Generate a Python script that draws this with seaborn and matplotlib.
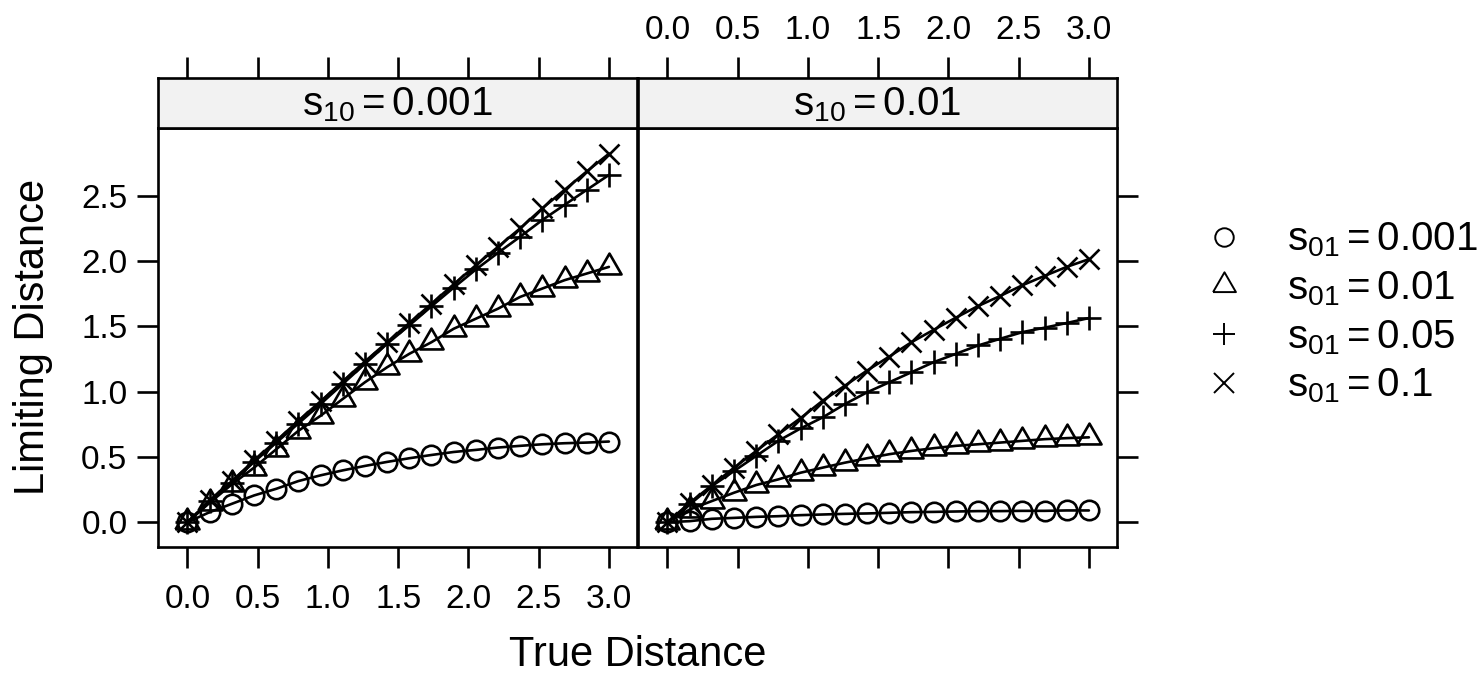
import numpy as np
import pandas as pd
import matplotlib
matplotlib.use('Agg')
import matplotlib.pyplot as plt
import seaborn as sns
from matplotlib.lines import Line2D

# Data

true_dist = [0.0, 0.158, 0.316, 0.474, 0.632, 0.789, 0.947, 1.105, 1.263, 1.421,
             1.579, 1.737, 1.895, 2.053, 2.211, 2.368, 2.526, 2.684, 2.842, 3.0]

s10_levels = ['0.001', '0.01']
s01_levels = ['0.001', '0.01', '0.05', '0.1']

# panel s10 = 0.001
p1_s01_0001 = [0.0, 0.077, 0.141, 0.205, 0.256, 0.315, 0.359, 0.397, 0.431, 0.462,
               0.490, 0.515, 0.538, 0.554, 0.572, 0.585, 0.597, 0.605, 0.610, 0.618]
p1_s01_001 = [0.0, 0.149, 0.290, 0.418, 0.559, 0.700, 0.815, 0.944, 1.072, 1.187,
              1.290, 1.379, 1.482, 1.559, 1.636, 1.726, 1.790, 1.854, 1.905, 1.956]
p1_s01_005 = [0.0, 0.162, 0.303, 0.462, 0.610, 0.756, 0.905, 1.059, 1.213, 1.367,
              1.508, 1.654, 1.797, 1.936, 2.064, 2.187, 2.315, 2.431, 2.546, 2.660]
p1_s01_01 = [0.0, 0.167, 0.315, 0.474, 0.623, 0.777, 0.926, 1.079, 1.231, 1.379,
             1.526, 1.674, 1.823, 1.969, 2.110, 2.251, 2.405, 2.546, 2.687, 2.823]

# panel s10 = 0.01
p2_s01_0001 = [0.0, 0.008, 0.026, 0.033, 0.041, 0.046, 0.054, 0.059, 0.064, 0.067,
               0.072, 0.077, 0.079, 0.082, 0.085, 0.085, 0.087, 0.087, 0.090, 0.090]
p2_s01_001 = [0.0, 0.097, 0.162, 0.226, 0.285, 0.328, 0.379, 0.418, 0.456, 0.490,
              0.521, 0.546, 0.567, 0.585, 0.597, 0.610, 0.623, 0.636, 0.644, 0.650]
p2_s01_005 = [0.0, 0.136, 0.277, 0.392, 0.508, 0.623, 0.718, 0.803, 0.905, 0.995,
              1.072, 1.149, 1.226, 1.290, 1.354, 1.405, 1.456, 1.490, 1.526, 1.564]
p2_s01_01 = [0.0, 0.149, 0.282, 0.418, 0.546, 0.674, 0.797, 0.931, 1.046, 1.162,
             1.269, 1.379, 1.474, 1.567, 1.656, 1.733, 1.815, 1.887, 1.956, 2.015]

x_ticks = [0.0, 0.5, 1.0, 1.5, 2.0, 2.5, 3.0]
x_tick_labels = ['0.0', '0.5', '1.0', '1.5', '2.0', '2.5', '3.0']
y_ticks = [0.0, 0.5, 1.0, 1.5, 2.0, 2.5]
y_tick_labels = ['0.0', '0.5', '1.0', '1.5', '2.0', '2.5']

panels = {
    '0.001': [p1_s01_0001, p1_s01_001, p1_s01_005, p1_s01_01],
    '0.01': [p2_s01_0001, p2_s01_001, p2_s01_005, p2_s01_01],
}

rows = []
for s10 in s10_levels:
    for s01, vals in zip(s01_levels, panels[s10]):
        for x, y in zip(true_dist, vals):
            rows.append({'s10': s10, 's01': s01, 'true': x, 'limit': y})
df = pd.DataFrame(rows)

# Style

sns.set_style('white')
plt.rcParams['font.family'] = ['Liberation Sans', 'DejaVu Sans']
plt.rcParams['mathtext.fontset'] = 'custom'
plt.rcParams['mathtext.rm'] = 'Liberation Sans'
plt.rcParams['mathtext.it'] = 'Liberation Sans:italic'
plt.rcParams['text.color'] = 'black'
plt.rcParams['axes.labelcolor'] = 'black'
plt.rcParams['xtick.color'] = 'black'
plt.rcParams['ytick.color'] = 'black'

TRI = [(-0.866, -0.5), (0.866, -0.5), (0.0, 1.0), (-0.866, -0.5)]
MARKERS = {'0.001': 'o', '0.01': TRI, '0.05': '+', '0.1': 'x'}
SIZES = {'0.001': 14, '0.01': 20, '0.05': 17, '0.1': 15}

LW = 1.9
TICK_LEN = 15
TICK_FS = 24
LABEL_FS = 30
STRIP_FS = 29

fig = plt.figure(figsize=(14.79, 6.75), dpi=100)

W, H = 1479, 675
panel_left = [158, 638]
panel_w = 479
panel_top, panel_bottom = 128, 547
strip_top = 78

XLIM = (-0.21, 3.2)
YLIM = (-0.19, 3.02)

for i, s10 in enumerate(s10_levels):
    ax = fig.add_axes([panel_left[i] / W, 1 - panel_bottom / H,
                       panel_w / W, (panel_bottom - panel_top) / H])
    strip = fig.add_axes([panel_left[i] / W, 1 - panel_top / H,
                          panel_w / W, (panel_top - strip_top) / H])

    for s01 in s01_levels:
        sub = df[(df['s10'] == s10) & (df['s01'] == s01)]
        sns.lineplot(data=sub, x='true', y='limit', ax=ax, color='black',
                     lw=LW, marker=MARKERS[s01], markersize=SIZES[s01],
                     mfc='none', mec='black', mew=LW, errorbar=None,
                     estimator=None, sort=False, legend=False)

    ax.set_xlim(XLIM)
    ax.set_ylim(YLIM)
    ax.set_xticks(x_ticks)
    ax.set_yticks(y_ticks)
    ax.set_xticklabels(x_tick_labels)
    ax.set_yticklabels(y_tick_labels)
    ax.set_xlabel('')
    ax.set_ylabel('')
    for sp in ax.spines.values():
        sp.set_visible(True)
        sp.set_linewidth(LW)
        sp.set_color('black')

    ax.tick_params(axis='both', direction='out', length=TICK_LEN, width=LW,
                   color='black', labelsize=TICK_FS, top=False)
    ax.tick_params(axis='x', pad=12)
    ax.tick_params(axis='y', pad=7)
    if i == 0:
        ax.tick_params(axis='y', left=True, labelleft=True, right=False, labelright=False)
        ax.tick_params(axis='x', bottom=True, labelbottom=True)
    else:
        ax.tick_params(axis='y', left=False, labelleft=False, right=True, labelright=False)
        ax.tick_params(axis='x', bottom=True, labelbottom=False)

    # strip
    strip.set_facecolor('#f2f2f2')
    strip.set_xlim(XLIM)
    strip.set_ylim(0, 1)
    strip.set_yticks([])
    strip.set_xticks(x_ticks)
    strip.set_xticklabels(x_tick_labels)
    for sp in strip.spines.values():
        sp.set_visible(True)
        sp.set_linewidth(LW)
        sp.set_color('black')
    strip.tick_params(axis='x', direction='out', length=TICK_LEN, width=LW,
                      color='black', labelsize=TICK_FS, pad=8,
                      bottom=False, labelbottom=False, top=True, labeltop=(i == 1))
    strip.text(0.5, 0.47, r'$\mathregular{s_{10} = ' + s10 + '}$',
               transform=strip.transAxes, ha='center', va='center',
               fontsize=STRIP_FS)

fig.text(638 / W, 1 - 655 / H, 'True Distance', ha='center', va='center',
         fontsize=LABEL_FS)
fig.text(33 / W, 1 - 337 / H, 'Limiting Distance', ha='center', va='center',
         rotation=90, fontsize=LABEL_FS)

handles = [Line2D([], [], linestyle='none', color='black', marker=MARKERS[s],
                  markersize=SIZES[s] * 0.95, mfc='none', mec='black', mew=1.4)
           for s in s01_levels]
labels = [r'$\mathregular{s_{01} = ' + s + '}$' for s in s01_levels]
fig.legend(handles, labels, loc='center left',
           bbox_to_anchor=(1204 / W, 1 - 313 / H), frameon=False,
           fontsize=STRIP_FS, handlelength=1.0, handletextpad=1.05,
           labelspacing=0.25, borderpad=0, borderaxespad=0)

fig.savefig('out.png', dpi=100)
